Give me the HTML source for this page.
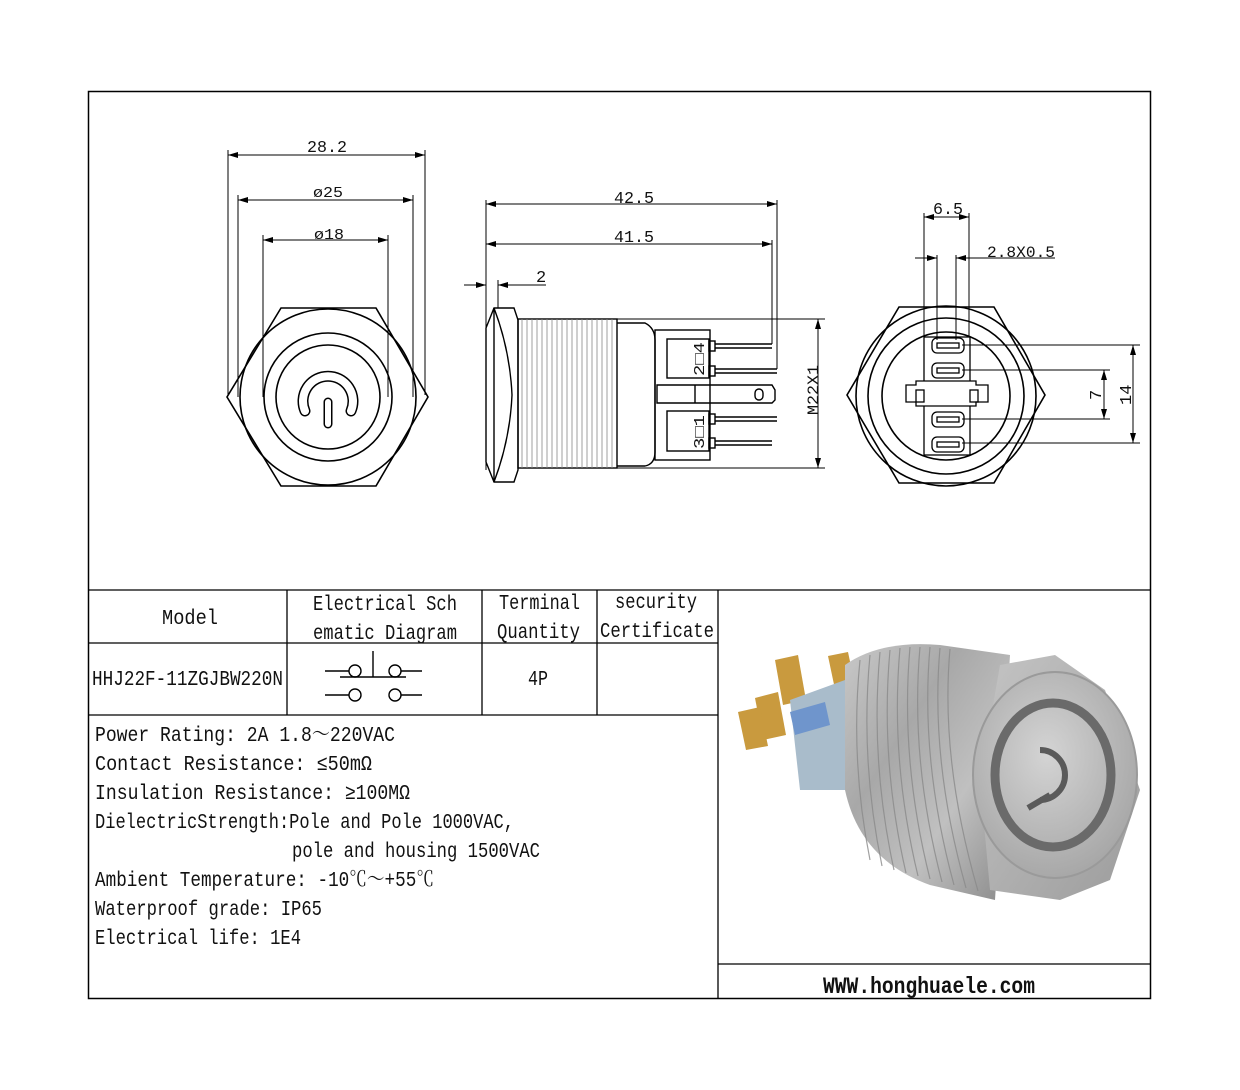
<!DOCTYPE html>
<html><head><meta charset="utf-8"><style>
html,body{margin:0;padding:0;background:#fff;}
svg{display:block;}
text{font-family:"Liberation Mono","Noto Serif CJK SC",monospace;fill:#111;}
</style></head><body>
<svg width="1240" height="1090" viewBox="0 0 1240 1090" xmlns="http://www.w3.org/2000/svg">
<defs>
<marker id="a" markerWidth="10" markerHeight="6" refX="10" refY="3" orient="auto-start-reverse" markerUnits="userSpaceOnUse"><path d="M0,0 L10,3 L0,6 z" fill="#000"/></marker>
<linearGradient id="cyl" x1="0" y1="0" x2="1" y2="1"><stop offset="0" stop-color="#c8c8c8"/><stop offset="0.35" stop-color="#a8a8a8"/><stop offset="0.65" stop-color="#c0c0c0"/><stop offset="1" stop-color="#8a8a8a"/></linearGradient>
<linearGradient id="hex" x1="0" y1="0" x2="1" y2="1"><stop offset="0" stop-color="#c4c4c4"/><stop offset="1" stop-color="#9c9c9c"/></linearGradient>
<radialGradient id="face" cx="0.45" cy="0.4" r="0.6"><stop offset="0" stop-color="#d4d4d4"/><stop offset="1" stop-color="#a8a8a8"/></radialGradient>
</defs>
<rect x="88.5" y="91.5" width="1062" height="907" fill="none" stroke="#000" stroke-width="1.5"/>
<g stroke="#000" stroke-width="1.3" fill="none">
<line x1="88" y1="590" x2="1151" y2="590"/>
<line x1="88" y1="643" x2="718" y2="643"/>
<line x1="88" y1="715" x2="718" y2="715"/>
<line x1="287" y1="590" x2="287" y2="715"/>
<line x1="482" y1="590" x2="482" y2="715"/>
<line x1="597" y1="590" x2="597" y2="715"/>
<line x1="718" y1="590" x2="718" y2="998"/>
<line x1="718" y1="964" x2="1151" y2="964"/>
</g>

<!-- LEFT VIEW -->
<g stroke="#000" stroke-width="1.6" fill="none">
<polygon points="281,308 376,308 428,397 376,486 281,486 227,397"/>
<circle cx="328" cy="397" r="88"/>
<circle cx="328" cy="397" r="64"/>
<circle cx="328" cy="397" r="52"/>
</g>
<path d="M305,411 A25,25 0 1 1 351,411" stroke="#000" stroke-width="11" fill="none" stroke-linecap="round"/>
<path d="M305,411 A25,25 0 1 1 351,411" stroke="#fff" stroke-width="8" fill="none" stroke-linecap="round"/>
<line x1="328" y1="402" x2="328" y2="424" stroke="#000" stroke-width="9" stroke-linecap="round"/>
<line x1="328" y1="402" x2="328" y2="424" stroke="#fff" stroke-width="6" stroke-linecap="round"/>
<g stroke="#000" stroke-width="1" fill="none">
<line x1="228" y1="150" x2="228" y2="395"/><line x1="425" y1="150" x2="425" y2="395"/>
<line x1="238" y1="195" x2="238" y2="397"/><line x1="413" y1="195" x2="413" y2="397"/>
<line x1="263" y1="235" x2="263" y2="397"/><line x1="388" y1="235" x2="388" y2="397"/>
<line x1="228" y1="155" x2="425" y2="155" marker-start="url(#a)" marker-end="url(#a)"/>
<line x1="238" y1="200" x2="413" y2="200" marker-start="url(#a)" marker-end="url(#a)"/>
<line x1="263" y1="240" x2="388" y2="240" marker-start="url(#a)" marker-end="url(#a)"/>
</g>
<text x="307" y="152" font-size="17" textLength="40" lengthAdjust="spacingAndGlyphs">28.2</text>
<text x="313" y="197" font-size="15" textLength="30" lengthAdjust="spacingAndGlyphs">ø25</text>
<text x="314" y="239" font-size="15" textLength="30" lengthAdjust="spacingAndGlyphs">ø18</text>

<!-- MIDDLE VIEW -->
<g stroke="#000" stroke-width="1.4" fill="none">
<path d="M494,308 L514,308 L518,320 L518,470 L514,482 L494,482 L486,462 L486,328 Z"/>
<line x1="494" y1="308" x2="494" y2="482"/>
<path d="M494,308 Q510,350 512,395 Q510,440 494,482"/>
<rect x="518" y="319" width="99" height="149"/>
<path d="M617,323 L645,323 Q655,328 655,340 L655,452 Q655,464 645,466 L617,466"/>
<rect x="655" y="330" width="55" height="130"/>
<rect x="667" y="339" width="42" height="39"/>
<rect x="667" y="411" width="42" height="40"/>
<rect x="709" y="341" width="6" height="10"/><rect x="709" y="366" width="6" height="10"/>
<rect x="709" y="414" width="6" height="10"/><rect x="709" y="438" width="6" height="10"/>
<line x1="715" y1="344" x2="772" y2="344"/><line x1="715" y1="348" x2="772" y2="348"/>
<line x1="715" y1="369" x2="777" y2="369"/><line x1="715" y1="373" x2="777" y2="373"/>
<line x1="715" y1="417" x2="777" y2="417"/><line x1="715" y1="421" x2="777" y2="421"/>
<line x1="715" y1="441" x2="772" y2="441"/><line x1="715" y1="445" x2="772" y2="445"/>
<path d="M657,385 L772,385 L775,390 L775,400 L772,403 L657,403 Z"/>
<line x1="695" y1="385" x2="695" y2="403"/>
<rect x="755" y="389" width="8" height="11" rx="4"/>
</g>
<g stroke="#888" stroke-width="0.8">
<path d="M522,319 V468 M527,319 V468 M532,319 V468 M537,319 V468 M542,319 V468 M547,319 V468 M552,319 V468 M557,319 V468 M562,319 V468 M567,319 V468 M572,319 V468 M577,319 V468 M582,319 V468 M587,319 V468 M592,319 V468 M597,319 V468 M602,319 V468 M607,319 V468 M612,319 V468"/>
</g>
<g stroke="#000" stroke-width="1" fill="none">
<line x1="486" y1="200" x2="486" y2="470"/>
<line x1="777" y1="200" x2="777" y2="369"/>
<line x1="772" y1="240" x2="772" y2="344"/>
<line x1="498" y1="280" x2="498" y2="308"/>
<line x1="486" y1="204" x2="777" y2="204" marker-start="url(#a)" marker-end="url(#a)"/>
<line x1="486" y1="244" x2="772" y2="244" marker-start="url(#a)" marker-end="url(#a)"/>
<line x1="464" y1="285" x2="486" y2="285" marker-end="url(#a)"/>
<line x1="546" y1="285" x2="498" y2="285" marker-end="url(#a)"/>
<line x1="617" y1="319" x2="825" y2="319"/>
<line x1="617" y1="468" x2="825" y2="468"/>
<line x1="818" y1="319" x2="818" y2="468" marker-start="url(#a)" marker-end="url(#a)"/>
</g>
<text x="614" y="203" font-size="17" textLength="40" lengthAdjust="spacingAndGlyphs">42.5</text>
<text x="614" y="242" font-size="17" textLength="40" lengthAdjust="spacingAndGlyphs">41.5</text>
<text x="536" y="282" font-size="17">2</text>
<text font-size="15" transform="translate(704,376) rotate(-90)" textLength="34" lengthAdjust="spacingAndGlyphs">2□4</text>
<text font-size="15" transform="translate(704,449) rotate(-90)" textLength="34" lengthAdjust="spacingAndGlyphs">3□1</text>
<text font-size="16" transform="translate(818,415) rotate(-90)" textLength="50" lengthAdjust="spacingAndGlyphs">M22X1</text>

<!-- RIGHT VIEW -->
<g stroke="#000" stroke-width="1.6" fill="none">
<polygon points="899,307 994,307 1045,395 994,483 899,483 847,395"/>
<circle cx="946" cy="396" r="90"/>
<circle cx="946" cy="396" r="78"/>
<circle cx="946" cy="396" r="64"/>
</g>
<g stroke="#000" stroke-width="1.3" fill="#fff">
<rect x="924" y="337" width="46" height="118"/>
<path d="M906,385 L916,385 L916,381 L976,381 L976,385 L988,385 L988,402 L976,402 L976,406 L916,406 L916,402 L906,402 Z"/>
<rect x="916" y="390" width="8" height="12" fill="none"/><rect x="970" y="390" width="8" height="12" fill="none"/>
<rect x="932" y="338" width="32" height="15" rx="5"/><rect x="937" y="343" width="22" height="5" fill="none"/>
<rect x="932" y="363" width="32" height="15" rx="5"/><rect x="937" y="368" width="22" height="5" fill="none"/>
<rect x="932" y="412" width="32" height="15" rx="5"/><rect x="937" y="417" width="22" height="5" fill="none"/>
<rect x="932" y="437" width="32" height="15" rx="5"/><rect x="937" y="442" width="22" height="5" fill="none"/>
</g>
<g stroke="#000" stroke-width="1" fill="none">
<line x1="924" y1="213" x2="924" y2="337"/><line x1="969" y1="213" x2="969" y2="337"/>
<line x1="937" y1="255" x2="937" y2="340"/><line x1="956" y1="255" x2="956" y2="340"/>
<line x1="924" y1="217" x2="969" y2="217" marker-start="url(#a)" marker-end="url(#a)"/>
<line x1="915" y1="258" x2="937" y2="258" marker-end="url(#a)"/>
<line x1="1055" y1="258" x2="956" y2="258" marker-end="url(#a)"/>
<line x1="962" y1="345" x2="1140" y2="345"/><line x1="962" y1="443" x2="1140" y2="443"/>
<line x1="962" y1="370" x2="1110" y2="370"/><line x1="962" y1="419" x2="1110" y2="419"/>
<line x1="1133" y1="345" x2="1133" y2="443" marker-start="url(#a)" marker-end="url(#a)"/>
<line x1="1104" y1="370" x2="1104" y2="419" marker-start="url(#a)" marker-end="url(#a)"/>
</g>
<text x="933" y="214" font-size="17" textLength="30" lengthAdjust="spacingAndGlyphs">6.5</text>
<text x="987" y="257" font-size="16" textLength="68" lengthAdjust="spacingAndGlyphs">2.8X0.5</text>
<text font-size="17" transform="translate(1101,400) rotate(-90)">7</text>
<text font-size="17" transform="translate(1131,405) rotate(-90)">14</text>

<!-- TABLE TEXT -->
<g font-size="21">
<text x="162" y="624" textLength="56" lengthAdjust="spacingAndGlyphs">Model</text>
<text x="313" y="610" textLength="144" lengthAdjust="spacingAndGlyphs">Electrical Sch</text>
<text x="313" y="639" textLength="144" lengthAdjust="spacingAndGlyphs">ematic Diagram</text>
<text x="499" y="609" textLength="81" lengthAdjust="spacingAndGlyphs">Terminal</text>
<text x="497" y="638" textLength="83" lengthAdjust="spacingAndGlyphs">Quantity</text>
<text x="615" y="608" textLength="82" lengthAdjust="spacingAndGlyphs">security</text>
<text x="600" y="637" textLength="114" lengthAdjust="spacingAndGlyphs">Certificate</text>
<text x="92" y="685" textLength="191" lengthAdjust="spacingAndGlyphs">HHJ22F-11ZGJBW220N</text>
<text x="528" y="685" textLength="20" lengthAdjust="spacingAndGlyphs">4P</text>
</g>
<g stroke="#000" stroke-width="1.4" fill="none">
<line x1="325" y1="671" x2="349" y2="671"/><circle cx="355" cy="671" r="6"/>
<circle cx="395" cy="671" r="6"/><line x1="401" y1="671" x2="422" y2="671"/>
<line x1="373" y1="651" x2="373" y2="677"/><line x1="340" y1="677" x2="406" y2="677"/>
<line x1="325" y1="695" x2="349" y2="695"/><circle cx="355" cy="695" r="6"/>
<circle cx="395" cy="695" r="6"/><line x1="401" y1="695" x2="422" y2="695"/>
</g>

<!-- SPECS -->
<g font-size="21">
<text x="95" y="741" textLength="300" lengthAdjust="spacingAndGlyphs">Power Rating: 2A  1.8～220VAC</text>
<text x="95" y="770" textLength="277" lengthAdjust="spacingAndGlyphs">Contact Resistance: ≤50mΩ</text>
<text x="95" y="799" textLength="315" lengthAdjust="spacingAndGlyphs">Insulation Resistance: ≥100MΩ</text>
<text x="95" y="828" textLength="419" lengthAdjust="spacingAndGlyphs">DielectricStrength:Pole and Pole 1000VAC,</text>
<text x="292" y="857" textLength="248" lengthAdjust="spacingAndGlyphs">pole and housing 1500VAC</text>
<text x="95" y="886" textLength="339" lengthAdjust="spacingAndGlyphs">Ambient Temperature: -10℃～+55℃</text>
<text x="95" y="915" textLength="227" lengthAdjust="spacingAndGlyphs">Waterproof grade: IP65</text>
<text x="95" y="944" textLength="206" lengthAdjust="spacingAndGlyphs">Electrical life: 1E4</text>
</g>
<text x="823" y="993" font-size="23" font-weight="bold" textLength="212" lengthAdjust="spacingAndGlyphs">WWW.honghuaele.com</text>

<!-- PHOTO -->
<g>
<path d="M775,660 L798,655 L806,700 L783,705 Z" fill="#c99a3e"/>
<path d="M828,656 L848,652 L856,690 L836,694 Z" fill="#c99a3e"/>
<path d="M755,698 L778,692 L786,735 L763,740 Z" fill="#c99a3e"/>
<path d="M738,712 L760,707 L768,746 L746,750 Z" fill="#c99a3e"/>
<path d="M790,700 L845,680 L858,790 L800,790 Z" fill="#a9bccb"/>
<path d="M790,712 L825,702 L830,725 L795,735 Z" fill="#6f95cc"/>
<path d="M845,665 Q880,640 940,645 L1010,655 L995,900 L930,885 Q860,860 845,790 Z" fill="url(#cyl)"/>
<g stroke="#8a8a8a" stroke-width="1.2" fill="none" opacity="0.8">
<path d="M860,660 Q850,760 870,860 M870,655 Q860,760 882,866 M880,652 Q870,760 894,870 M890,650 Q880,760 906,873 M900,648 Q890,760 918,876 M910,647 Q900,760 930,879 M920,647 Q910,760 942,882 M930,647 Q920,760 954,885 M940,648 Q930,760 966,888 M950,649 Q940,760 978,891"/>
</g>
<path d="M1000,665 L1055,655 L1105,690 L1140,790 L1110,880 L1060,900 L990,890 L980,780 Z" fill="url(#hex)"/>
<ellipse cx="1055" cy="775" rx="82" ry="103" fill="url(#face)" stroke="#9a9a9a" stroke-width="2"/>
<ellipse cx="1053" cy="775" rx="58" ry="72" fill="none" stroke="#6a6a6a" stroke-width="9"/>
<path d="M1040,750 A22,22 0 1 1 1040,800" fill="none" stroke="#5a5a5a" stroke-width="6"/>
<line x1="1028" y1="808" x2="1050" y2="795" stroke="#5a5a5a" stroke-width="6"/>
</g>
</svg>
</body></html>
